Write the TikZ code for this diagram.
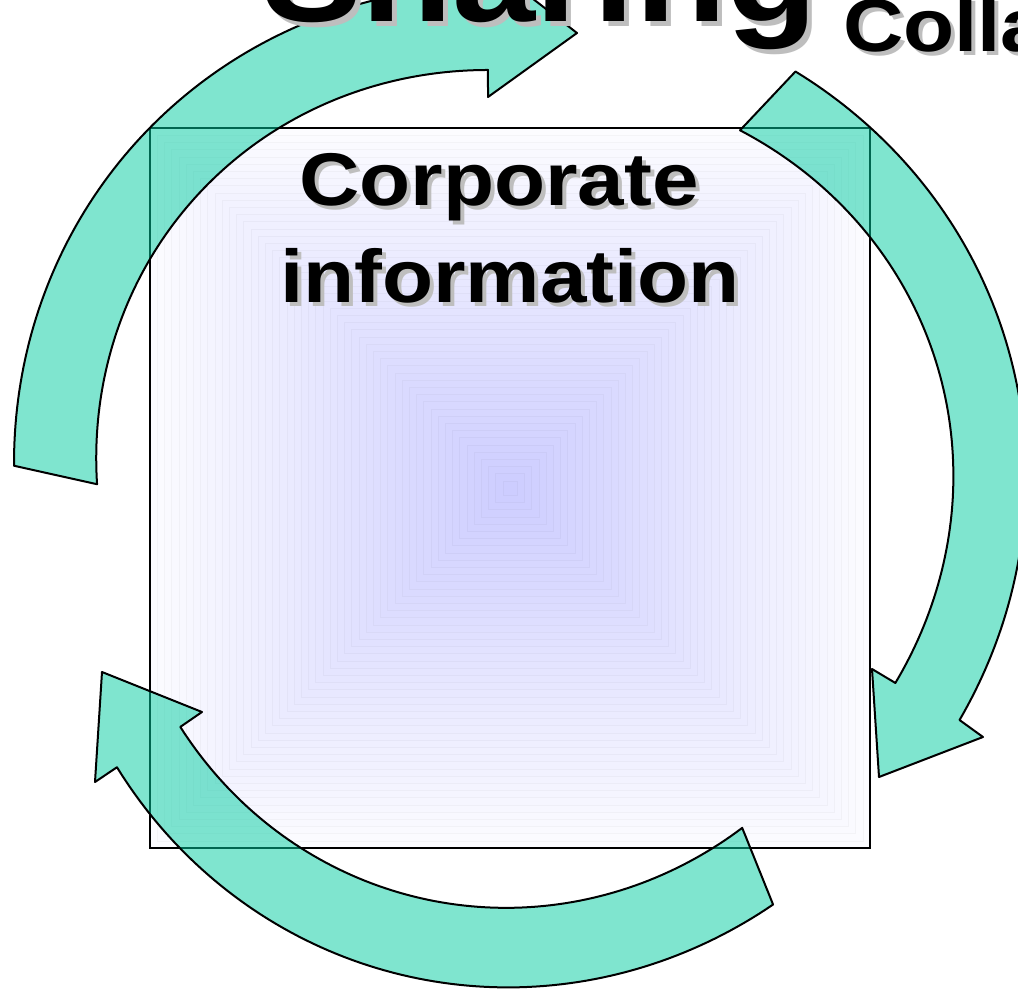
\documentclass[tikz,border=0pt]{standalone}
\usepackage{fontspec}
\setmainfont{Liberation Sans}
\usepackage{graphicx}
\definecolor{arrowfill}{RGB}{0,205,161}
\definecolor{boxC}{RGB}{204,204,255}
\definecolor{boxE}{RGB}{252,252,255}
\definecolor{shadowgray}{RGB}{190,190,190}
\begin{document}
\begin{tikzpicture}[x=0.75pt,y=-0.75pt,
  declare function={arcr(\q,\a,\b,\ra,\rb,\bu)=\ra+(\rb-\ra)*(\q-\a)/(\b-\a)+\bu*sin(180*(\q-\a)/(\b-\a));},
  cyclearrow/.style={fill=arrowfill, fill opacity=0.5, draw=black, line width=1.5pt, line join=round},
  boxframe/.style={draw=black, line width=1.2pt},
  txt/.style={inner sep=0pt, outer sep=0pt, font=\bfseries\fontsize{56}{60}\selectfont},
  bigtxt/.style={inner sep=0pt, outer sep=0pt, font=\bfseries\fontsize{100}{100}\selectfont},
  shad/.style={text=shadowgray}]
\useasboundingbox (0,0) rectangle (1018,991);
\clip (0,0) rectangle (1018,991);
\fill[white] (0,0) rectangle (1018,991);

% gradient square
\foreach \i in {0,...,49}{
  \pgfmathsetmacro\h{360*(1-\i/50)}
  \pgfmathtruncatemacro\p{2*\i}
  \filldraw[fill=boxC!\p!boxE, draw=boxC!\p!boxE!97!black, line width=0.4pt] ({510-\h},{488-\h}) rectangle ({510+\h},{488+\h});
}
\node[boxframe, minimum width=720*0.75pt, minimum height=720*0.75pt, inner sep=0pt] (box) at (510,488) {};

% arrow head points
\coordinate (a1bo) at (488,-36);
\coordinate (a1tip) at (577,33);
\coordinate (a1bi) at (488,97);
\coordinate (a2bo) at (983,737);
\coordinate (a2tip) at (879,777);
\coordinate (a2bi) at (872,669);
\coordinate (a3bo) at (95,782);
\coordinate (a3tip) at (102,672);
\coordinate (a3bi) at (202,712);

% top-left arrow
\draw[cyclearrow]
  plot[domain=182.8:267.5,samples=90,variable=\t]
   ({510+arcr(\t,182.8,267.5,496.6,505,10)*cos(\t)},{490+arcr(\t,182.8,267.5,496.6,505,10)*sin(\t)})
  -- (a1bo) -- (a1tip) -- (a1bi)
  -- plot[domain=267:180.8,samples=90,variable=\t]
   ({510+arcr(\t,267,180.8,420.6,413,13)*cos(\t)},{490+arcr(\t,267,180.8,420.6,413,13)*sin(\t)})
  -- cycle;

% right arrow
\draw[cyclearrow]
  plot[domain=-55.7:27.1,samples=90,variable=\t]
   ({510+arcr(\t,-55.7,27.1,506.6,505,12)*cos(\t)},{490+arcr(\t,-55.7,27.1,506.6,505,12)*sin(\t)})
  -- (a2bo) -- (a2tip) -- (a2bi)
  -- plot[domain=26.6:-57.4,samples=90,variable=\t]
   ({510+arcr(\t,26.6,-57.4,431,427,16)*cos(\t)},{490+arcr(\t,26.6,-57.4,431,427,16)*sin(\t)})
  -- cycle;

% bottom arrow
\draw[cyclearrow]
  plot[domain=57.6:144.8,samples=90,variable=\t]
   ({510+arcr(\t,57.6,144.8,491,481,11)*cos(\t)},{490+arcr(\t,57.6,144.8,491,481,11)*sin(\t)})
  -- (a3bo) -- (a3tip) -- (a3bi)
  -- plot[domain=144.3:55.5,samples=90,variable=\t]
   ({510+arcr(\t,144.3,55.5,406,410,10)*cos(\t)},{490+arcr(\t,144.3,55.5,406,410,10)*sin(\t)})
  -- cycle;

% texts with shadows
\node[bigtxt, shad, anchor=base west] (sharingsh) at (267,27) {\scalebox{1.12}[1]{Sharing}};
\node[bigtxt, anchor=base west] (sharing) at (262,22) {\scalebox{1.12}[1]{Sharing}};
\node[txt, shad, anchor=base west] (collash) at (847,56) {\scalebox{1.12}[1]{Colla}};
\node[txt, anchor=base west] (colla) at (843,52) {\scalebox{1.12}[1]{Colla}};
\node[txt, shad, anchor=base] (corpsh) at (503,210) {\scalebox{1.12}[1]{Corporate}};
\node[txt, anchor=base] (corp) at (499,206) {\scalebox{1.12}[1]{Corporate}};
\node[txt, shad, anchor=base] (infosh) at (514,307) {\scalebox{1.12}[1]{information}};
\node[txt, anchor=base] (info) at (510,303) {\scalebox{1.12}[1]{information}};
\end{tikzpicture}
\end{document}
